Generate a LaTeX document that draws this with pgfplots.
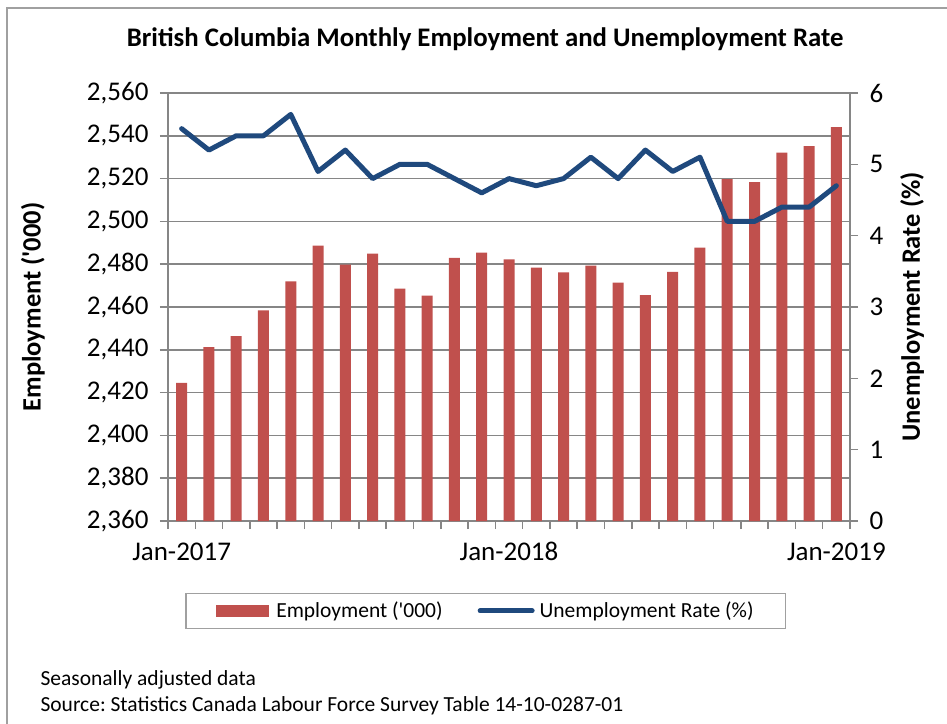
\documentclass[border=0pt]{standalone}
\usepackage{fontspec}
\setmainfont{Carlito}[Ligatures=TeXOff]
\usepackage{pgfplots}
\pgfplotsset{compat=1.18}
\definecolor{barred}{RGB}{192,80,77}
\definecolor{lineblue}{RGB}{31,73,125}
\definecolor{gridgray}{RGB}{134,134,134}
\definecolor{framegray}{RGB}{160,160,160}
\frenchspacing
\begin{document}
\begin{tikzpicture}[x=1pt,y=1pt]
\useasboundingbox (0,0) rectangle (947,723);
\draw[framegray, line width=1.5pt] (7,-5) -- (7,715) -- (960,715);
\begin{axis}[
  at={(168pt,202pt)}, anchor=south west,
  scale only axis, width=682pt, height=428pt,
  xmin=-0.5, xmax=24.5,
  ymin=2360, ymax=2560,
  ytick={2360,2380,...,2560},
  axis x line*=bottom, axis y line*=left,
  axis line style={gridgray, line width=1.5pt, -},
  tick style={gridgray, line width=1.5pt},
  tick align=outside, major tick length=8pt,
  xtick={-0.5,0.5,...,24.5}, xticklabels={},
  extra x ticks={0,12,24},
  extra x tick labels={Jan-2017,Jan-2018,Jan-2019},
  extra x tick style={major tick length=0pt, tick label style={yshift=-18pt}},
  ymajorgrids, grid style={gridgray, line width=1.5pt},
  scaled y ticks=false,
  /pgf/number format/1000 sep={,},
  /pgf/number format/assume math mode=true,
  ticklabel style={font=\fontsize{27}{31}\selectfont, text=black},
  yticklabel style={xshift=-8pt},
  ylabel={\textbf{Employment ('000)}},
  ylabel style={at={(axis description cs:-0.198,0.5)}, anchor=center, font=\fontsize{26.5}{30}\selectfont},
  title={\textbf{British Columbia Monthly Employment and Unemployment Rate}},
  title style={at={(axis description cs:0.465,1.0935)}, anchor=base, font=\fontsize{26.8}{30}\selectfont},
]
\addplot[ybar, bar width=11pt, fill=barred, draw=none] coordinates {
(0,2424.6) (1,2441.3) (2,2446.4) (3,2458.4) (4,2472.0) (5,2488.7)
(6,2479.8) (7,2484.9) (8,2468.6) (9,2465.3) (10,2482.9) (11,2485.4)
(12,2482.3) (13,2478.4) (14,2476.2) (15,2479.3) (16,2471.4) (17,2465.6)
(18,2476.4) (19,2487.7) (20,2519.7) (21,2518.3) (22,2532.1) (23,2535.2)
(24,2544.0)};
\end{axis}
\begin{axis}[
  at={(168pt,202pt)}, anchor=south west,
  scale only axis, width=682pt, height=428pt,
  xmin=-0.5, xmax=24.5,
  ymin=0, ymax=6, ytick={0,1,...,6},
  axis x line=none, axis y line*=right,
  axis line style={gridgray, line width=1.5pt, -},
  tick style={gridgray, line width=1.5pt},
  tick align=outside, major tick length=8pt,
  /pgf/number format/assume math mode=true,
  ticklabel style={font=\fontsize{27}{31}\selectfont, text=black},
  yticklabel style={xshift=8pt},
  ylabel={\textbf{Unemployment Rate (\%)}},
  ylabel style={at={(axis description cs:1.091,0.5)}, anchor=center, rotate=0, font=\fontsize{26.5}{30}\selectfont},
  legend columns=2,
  legend style={at={(axis description cs:0.466,-0.210)}, anchor=center,
    draw=framegray, line width=1.2pt, font=\fontsize{21.5}{25}\selectfont,
    inner xsep=30pt, inner ysep=7pt,
    /tikz/every even column/.append style={column sep=33pt}},
]
\addlegendimage{legend image code/.code={\fill[barred] (0pt,-5.5pt) rectangle (52pt,5.5pt);}}
\addlegendentry{\hspace{5pt}Employment ('000)}
\addplot[lineblue, line width=5pt, line join=round, line cap=round,
  legend image code/.code={\draw[lineblue, line width=5pt, line cap=round] (0pt,0pt) -- (52pt,0pt);}]
 coordinates {
(0,5.5) (1,5.2) (2,5.4) (3,5.4) (4,5.7) (5,4.9) (6,5.2) (7,4.8) (8,5.0)
(9,5.0) (10,4.8) (11,4.6) (12,4.8) (13,4.7) (14,4.8) (15,5.1) (16,4.8)
(17,5.2) (18,4.9) (19,5.1) (20,4.2) (21,4.2) (22,4.4) (23,4.4) (24,4.7)};
\addlegendentry{\hspace{3pt}Unemployment Rate (\%)}
\end{axis}
\node[anchor=base west, font=\fontsize{21.5}{24}\selectfont] at (37,38) {Seasonally adjusted data};
\node[anchor=base west, font=\fontsize{21.5}{24}\selectfont] at (37,12) {Source: Statistics Canada Labour Force Survey Table 14-10-0287-01};
\end{tikzpicture}
\end{document}
